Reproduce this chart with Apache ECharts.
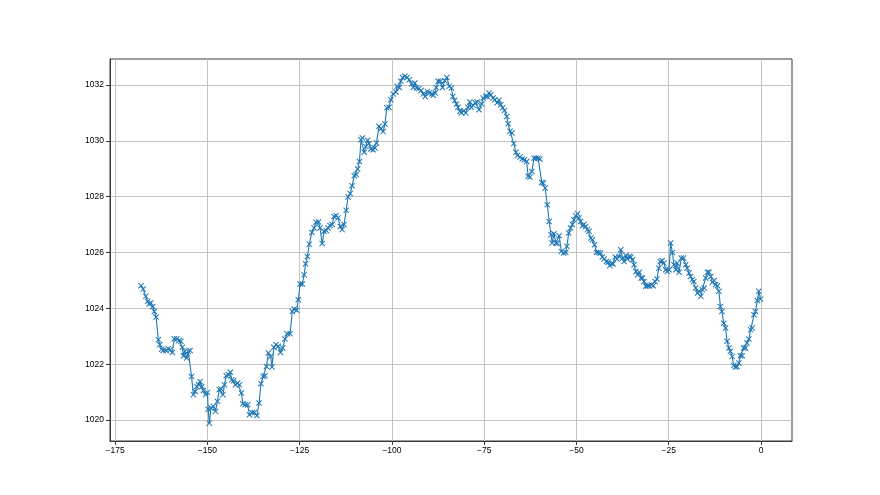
<!DOCTYPE html>
<html>
<head>
<meta charset="utf-8">
<script src="https://cdn.jsdelivr.net/npm/echarts@6/dist/echarts.min.js"></script>
<style>html,body{margin:0;padding:0;background:#fff}#c{width:880px;height:495px}</style>
</head>
<body>
<div id="c"></div>
<script>
// Tick labels
const xTicks = [-175, -150, -125, -100, -75, -50, -25, 0];
const yTicks = [1020, 1022, 1024, 1026, 1028, 1030, 1032];

// Hours (x) and pressure (y), segment by segment
const hoursA = [-168.0,-167.4,-166.7,-166.2,-165.8,-165.3,-164.8,-164.4,-163.9,-163.3,-162.9,-162.4,-162.0,-161.2,-160.6,-160.1,-159.5,-159.0,-158.3,-157.7,-157.2,-156.8,-156.5,-156.1,-155.6,-155.2,-154.7,-154.3,-153.8,-153.3,-152.9,-152.4,-152.0,-151.5,-151.1,-150.5,-150.0,-149.8,-149.5,-149.0,-148.4,-147.8,-147.3,-146.8,-146.3,-145.8,-145.4,-144.9,-144.3,-143.8,-143.4,-142.9,-142.4,-141.8,-141.3,-140.8,-140.4,-139.8,-139.1,-138.6,-137.9,-137.3,-136.6,-136.0];
const pressureA = [1024.81,1024.69,1024.43,1024.25,1024.16,1024.19,1024.07,1023.89,1023.69,1022.88,1022.70,1022.54,1022.49,1022.49,1022.55,1022.52,1022.42,1022.91,1022.91,1022.85,1022.82,1022.61,1022.30,1022.46,1022.22,1022.46,1022.49,1021.56,1020.91,1021.02,1021.20,1021.26,1021.38,1021.20,1021.06,1020.91,1020.99,1020.39,1019.89,1020.43,1020.49,1020.31,1020.67,1021.09,1021.11,1020.91,1021.26,1021.59,1021.62,1021.71,1021.44,1021.41,1021.26,1021.33,1021.26,1020.97,1020.58,1020.55,1020.55,1020.19,1020.27,1020.27,1020.16,1020.61];

const hoursB = [-135.5,-134.9,-134.4,-134.0,-133.5,-132.9,-132.5,-132.0,-131.4,-130.8,-130.2,-129.6,-129.0,-128.4,-127.6,-127.0,-126.5,-125.8,-125.4,-124.9,-124.3,-123.8,-123.4,-122.9,-122.4,-121.7,-121.1,-120.6,-119.9,-119.5,-118.9,-118.4,-117.8,-117.3,-116.8,-116.2,-115.7,-115.1,-114.6,-114.0,-113.5,-113.0,-112.4,-111.9,-111.3,-110.8,-110.2,-109.7,-109.3,-108.8];
const pressureB = [1021.30,1021.56,1021.59,1021.92,1022.40,1022.28,1021.90,1022.61,1022.70,1022.64,1022.42,1022.58,1022.90,1023.09,1023.09,1023.89,1023.98,1023.93,1024.31,1024.87,1024.87,1025.20,1025.60,1025.86,1026.30,1026.72,1026.88,1027.08,1027.09,1026.88,1026.32,1026.76,1026.79,1026.88,1026.97,1027.00,1027.29,1027.32,1027.24,1026.93,1026.82,1027.00,1027.51,1027.99,1028.11,1028.39,1028.75,1028.79,1028.99,1029.26];

const hoursC = [-108.4,-108.0,-107.5,-107.1,-106.6,-106.2,-105.7,-105.1,-104.6,-104.2];
const pressureC = [1030.04,1030.10,1029.59,1029.80,1030.02,1029.90,1029.71,1029.68,1029.74,1029.92];

const hoursD = [-103.5,-103.0,-102.4,-101.9,-101.4,-100.8,-100.3,-99.7,-98.9,-98.6,-98.0,-97.6,-97.1,-96.5,-95.9,-95.3,-94.7,-94.2,-93.8,-93.3,-92.7,-92.1,-91.5,-91.0,-90.4,-89.9,-89.2,-88.8,-88.3,-88.0,-87.5,-86.9,-86.3,-85.7,-85.1,-84.5,-83.9,-83.5,-83.0,-82.5,-82.1,-81.6,-81.2,-80.5,-80.0,-79.4,-78.9,-78.5,-78.0,-77.4,-76.9,-76.4,-75.7,-75.3,-74.6,-74.2,-73.7,-73.2,-72.6,-72.1,-71.5,-71.0];
const pressureD = [1030.52,1030.43,1030.33,1030.60,1031.18,1031.20,1031.47,1031.68,1031.75,1031.95,1031.91,1032.13,1032.27,1032.31,1032.27,1032.19,1032.04,1031.91,1032.07,1031.89,1031.87,1031.80,1031.68,1031.59,1031.77,1031.71,1031.68,1031.63,1031.71,1031.91,1032.13,1032.13,1031.91,1032.15,1032.27,1031.95,1031.89,1031.59,1031.44,1031.32,1031.20,1031.05,1031.00,1031.08,1031.00,1031.20,1031.39,1031.20,1031.27,1031.36,1031.39,1031.11,1031.32,1031.53,1031.59,1031.59,1031.71,1031.65,1031.53,1031.47,1031.36,1031.45];

const hoursE = [-70.5,-70.0,-69.5,-68.9,-68.5,-68.0,-67.5,-67.0,-66.4,-66.0,-65.3,-64.7,-64.1,-63.5,-63.1,-62.6,-62.1,-61.5,-61.0,-60.4,-59.9,-59.4,-59.0,-58.5,-57.9,-57.4,-56.9,-56.6,-56.1,-55.6,-55.2,-54.7];
const pressureE = [1031.29,1031.18,1031.09,1030.87,1030.61,1030.34,1030.28,1029.90,1029.59,1029.47,1029.42,1029.35,1029.32,1029.26,1028.73,1028.70,1028.90,1029.38,1029.38,1029.38,1029.35,1028.51,1028.49,1028.31,1027.71,1027.11,1026.64,1026.34,1026.67,1026.34,1026.32,1026.60];

const hoursF = [-54.1,-53.5,-52.9,-52.6,-52.1,-51.6,-51.1,-50.7,-50.2,-49.7,-49.3,-48.9,-48.4,-48.0,-47.5,-47.0,-46.6,-46.1,-45.7,-45.1,-44.6,-44.0,-43.5,-43.0,-42.5,-41.9,-41.4,-41.0,-40.5,-40.1,-39.5,-39.0,-38.4,-38.0,-37.5,-37.1,-36.6,-36.2,-35.7,-35.3,-34.8,-34.4,-33.9,-33.4,-33.0,-32.5,-32.1,-31.7,-31.2,-30.7,-30.3,-29.7,-29.2,-28.7,-28.2,-27.7,-27.3,-26.8,-26.3,-25.8,-25.4,-24.9,-24.5,-24.0,-23.6,-23.1,-22.7,-22.2];
const pressureF = [1026.04,1025.98,1026.00,1026.22,1026.70,1026.88,1027.00,1027.17,1027.32,1027.39,1027.24,1027.11,1026.96,1027.00,1026.93,1026.82,1026.76,1026.52,1026.46,1026.28,1026.00,1026.00,1025.98,1025.84,1025.77,1025.68,1025.65,1025.53,1025.60,1025.60,1025.84,1025.77,1025.86,1026.10,1025.80,1025.68,1025.89,1025.77,1025.86,1025.84,1025.74,1025.56,1025.32,1025.20,1025.29,1025.09,1025.09,1024.96,1024.79,1024.81,1024.81,1024.85,1024.81,1024.96,1025.05,1025.44,1025.68,1025.71,1025.62,1025.38,1025.32,1025.38,1026.34,1026.00,1025.56,1025.38,1025.62,1025.29];

const hoursG = [-21.6,-21.0,-20.4,-20.0,-19.5,-19.1,-18.6,-18.2,-17.7,-17.2,-16.8,-16.3,-15.9,-15.4,-15.0,-14.5,-14.1,-13.6,-13.2,-12.7,-12.3,-11.8,-11.4,-11.0,-10.6,-10.1,-9.6,-9.2,-8.7,-8.3,-7.8,-7.4,-6.9,-6.5,-6.0,-5.6,-5.1,-4.7,-4.2,-3.8,-3.3,-2.8,-2.4,-1.9,-1.5,-1.0,-0.6,-0.1];
const pressureG = [1025.80,1025.80,1025.56,1025.44,1025.27,1025.14,1025.03,1024.96,1024.73,1024.55,1024.61,1024.43,1024.67,1024.73,1025.09,1025.29,1025.29,1025.14,1024.93,1025.00,1024.85,1024.81,1024.61,1024.07,1023.89,1023.47,1023.30,1022.82,1022.58,1022.46,1022.28,1021.95,1021.90,1021.92,1022.04,1022.30,1022.30,1022.58,1022.58,1022.76,1022.90,1023.23,1023.30,1023.77,1023.89,1024.28,1024.61,1024.33];

const hours = [].concat(hoursA, hoursB, hoursC, hoursD, hoursE, hoursF, hoursG);
const pressure = [].concat(pressureA, pressureB, pressureC, pressureD, pressureE, pressureF, pressureG);
const points = hours.map((h, i) => [h, pressure[i]]);

const xMark = 'path://M0,1.2L1.2,0L5,3.8L8.8,0L10,1.2L6.2,5L10,8.8L8.8,10L5,6.2L1.2,10L0,8.8L3.8,5Z';
const fontFamily = 'Liberation Sans';

const chart = echarts.init(document.getElementById('c'), null, {renderer: 'canvas'});
chart.setOption({
  animation: false,
  backgroundColor: '#ffffff',
  grid: {left: 110, top: 59, width: 682, height: 382, show: true, borderColor: '#3a3a3a', borderWidth: 1, backgroundColor: '#fff'},
  xAxis: {
    type: 'value', min: -176.4, max: 8.4,
    axisLine: {show: true, onZero: false, lineStyle: {color: '#3a3a3a', width: 1}},
    axisTick: {show: true, inside: false, length: 4, customValues: xTicks, lineStyle: {color: '#3a3a3a', width: 1}},
    axisLabel: {show: true, customValues: xTicks, margin: 5, color: '#000', fontSize: 8.5, fontFamily: fontFamily,
      formatter: v => String(v).replace('-', '\u2212')},
    splitLine: {show: true, lineStyle: {color: '#c4c4c4', width: 1}}
  },
  yAxis: {
    type: 'value', min: 1019.25, max: 1032.93,
    axisLine: {show: true, onZero: false, lineStyle: {color: '#3a3a3a', width: 1}},
    axisTick: {show: true, inside: false, length: 4, customValues: yTicks, lineStyle: {color: '#3a3a3a', width: 1}},
    axisLabel: {show: true, customValues: yTicks, margin: 6, color: '#000', fontSize: 8.5, fontFamily: fontFamily,
      formatter: v => String(v)},
    splitLine: {show: true, lineStyle: {color: '#c4c4c4', width: 1}}
  },
  series: [{
    type: 'line',
    data: points,
    symbol: xMark,
    symbolSize: 6,
    showSymbol: true,
    itemStyle: {color: '#1f77b4'},
    lineStyle: {color: '#1f77b4', width: 1.1},
    emphasis: {disabled: true}
  }]
});
</script>
</body>
</html>
